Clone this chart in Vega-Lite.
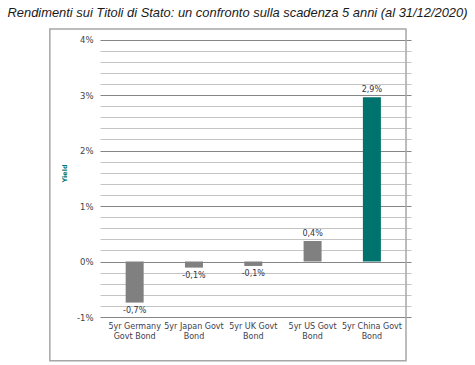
{
  "$schema": "https://vega.github.io/schema/vega-lite/v6.json",
  "width": 311,
  "height": 288,
  "autosize": "none",
  "padding": {"left": 100, "top": 29, "right": 64, "bottom": 48},
  "background": "white",
  "view": {"stroke": null},
  "title": {
    "text": "Rendimenti sui Titoli di Stato: un confronto sulla scadenza 5 anni (al 31/12/2020)",
    "font": "Liberation Sans",
    "fontStyle": "italic",
    "fontWeight": "normal",
    "fontSize": 12.9,
    "color": "#1a1a1a",
    "offset": 8,
    "dx": -18,
    "anchor": "middle"
  },
  "data": {
    "values": [
      {"bond": "5yr Germany\nGovt Bond", "pos": 1, "yield": -0.74, "label": "-0,7%", "group": "other"},
      {"bond": "5yr Japan Govt\nBond", "pos": 2, "yield": -0.11, "label": "-0,1%", "group": "other"},
      {"bond": "5yr UK Govt\nBond", "pos": 3, "yield": -0.08, "label": "-0,1%", "group": "other"},
      {"bond": "5yr US Govt\nBond", "pos": 4, "yield": 0.37, "label": "0,4%", "group": "other"},
      {"bond": "5yr China Govt\nBond", "pos": 5, "yield": 2.96, "label": "2,9%", "group": "china"}
    ]
  },
  "layer": [
    {
      "mark": {"type": "bar", "width": 18},
      "encoding": {
        "x": {"field": "pos", "type": "quantitative", "scale": {"domain": [0.5, 5.575], "nice": false, "zero": false}, "axis": null},
        "y": {
          "field": "yield",
          "type": "quantitative",
          "scale": {"domain": [-1, 4.19], "nice": false, "zero": false},
          "axis": {
            "values": [-1, -0.8, -0.6, -0.4, -0.2, 0, 0.2, 0.4, 0.6, 0.8, 1, 1.2, 1.4, 1.6, 1.8, 2, 2.2, 2.4, 2.6, 2.8, 3, 3.2, 3.4, 3.6, 3.8, 4],
            "tickCount": 40,
            "grid": true,
            "gridColor": {"condition": {"test": "abs(datum.value - round(datum.value)) < 0.01", "value": "#858585"}, "value": "#c4c4c4"},
            "gridWidth": 1,
            "domain": false,
            "ticks": false,
            "labelOverlap": false,
            "labelExpr": "abs(datum.value - round(datum.value)) < 0.01 ? round(datum.value) + '%' : ''",
            "labelPadding": 7,
            "labelFont": "DejaVu Sans",
            "labelFontSize": 8.5,
            "labelColor": "#444444",
            "title": "Yield",
            "titleColor": "#007a73",
            "titleFont": "DejaVu Sans",
            "titleFontSize": 6.5,
            "titleFontWeight": "bold",
            "titlePadding": 9
          }
        },
        "y2": {"datum": 0},
        "color": {"field": "group", "type": "nominal", "scale": {"domain": ["other", "china"], "range": ["#808080", "#00736e"]}, "legend": null}
      }
    },
    {
      "mark": {
        "type": "text",
        "font": "DejaVu Sans",
        "fontSize": 8,
        "color": "#333344",
        "align": "center",
        "baseline": {"expr": "datum.yield < 0 ? 'top' : 'bottom'"},
        "dy": {"expr": "datum.yield < 0 ? 4 : -3"}
      },
      "encoding": {
        "x": {"field": "pos", "type": "quantitative"},
        "y": {"field": "yield", "type": "quantitative"},
        "text": {"field": "label"}
      }
    },
    {
      "mark": {
        "type": "text",
        "font": "DejaVu Sans",
        "fontSize": 8,
        "color": "#404050",
        "align": "center",
        "baseline": "top",
        "dy": 6,
        "lineBreak": "\n",
        "lineHeight": 10
      },
      "encoding": {
        "x": {"field": "pos", "type": "quantitative"},
        "y": {"datum": -1, "type": "quantitative"},
        "text": {"field": "bond"}
      }
    },
    {
      "data": {"values": [{"x0": -0.43, "x1": 5.575, "y0": -1.79, "y1": 4.19}]},
      "mark": {"type": "rect", "fill": null, "stroke": "#a6a6a6", "strokeWidth": 1.5},
      "encoding": {
        "x": {"field": "x0", "type": "quantitative", "scale": {"domain": [0.5, 5.575], "nice": false, "zero": false}},
        "x2": {"field": "x1"},
        "y": {"field": "y0", "type": "quantitative", "scale": {"domain": [-1, 4.19], "nice": false, "zero": false}},
        "y2": {"field": "y1"}
      }
    }
  ]
}
